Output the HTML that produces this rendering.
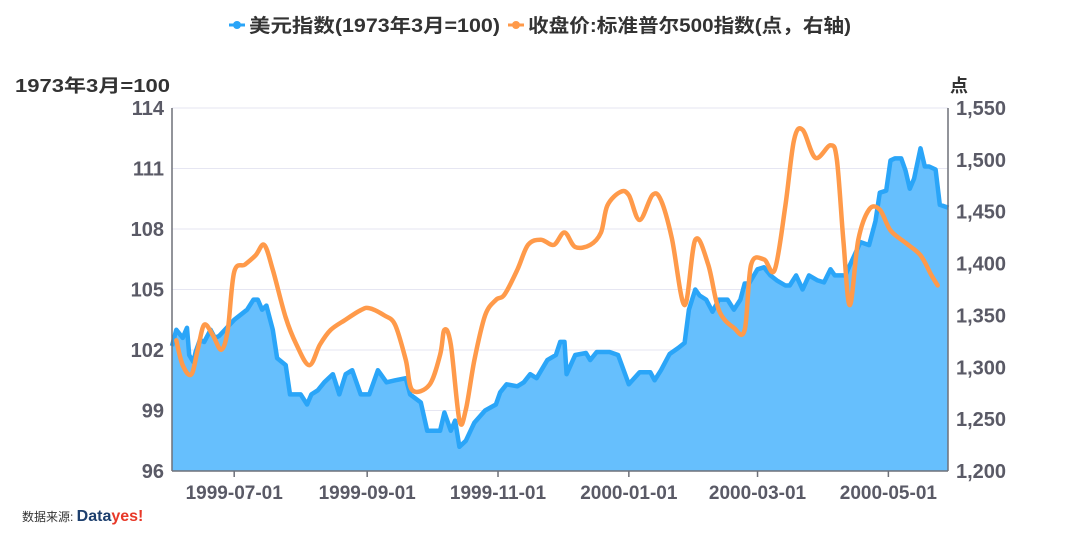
<!DOCTYPE html>
<html><head><meta charset="utf-8"><style>
body{margin:0;background:#fff;}
svg text{font-family:"Liberation Sans","Noto Sans CJK SC",sans-serif;}
</style></head><body>
<svg id="c" width="1080" height="540">
<g>
 <g>
  <line x1="229" y1="25" x2="245" y2="25" stroke="#2aa5f8" stroke-width="3"/><circle cx="237" cy="25" r="4" fill="#2aa5f8"/>
  <text x="249" y="32" font-size="19" font-weight="bold" fill="#333" textLength="251" lengthAdjust="spacingAndGlyphs">美元指数(1973年3月=100)</text></g>
 <g>
  <line x1="508" y1="25" x2="524" y2="25" stroke="#ff9a4a" stroke-width="3"/><circle cx="516" cy="25" r="4" fill="#ff9a4a"/>
  <text x="528" y="32" font-size="19" font-weight="bold" fill="#333" textLength="323" lengthAdjust="spacingAndGlyphs">收盘价:标准普尔500指数(点，右轴)</text></g>
</g>
<text x="15" y="92" font-size="18" font-weight="bold" fill="#333" textLength="155" lengthAdjust="spacingAndGlyphs">1973年3月=100</text>
<text x="950" y="92" font-size="18" font-weight="bold" fill="#333">点</text>
<g id="grid"></g><g id="series"></g><g id="axes"></g>
<text x="22" y="521" font-size="12" fill="#333">数据来源: <tspan font-size="16" font-weight="bold" fill="#1d3f6e">Data</tspan><tspan font-size="16" font-weight="bold" fill="#e83828">yes!</tspan></text>
</svg>
<script>
const startDate="1999-06-02";
const blueDays=[0,2,5,7,8,10,11,13,15,18,20,22,29,35,38,40,42,44,47,49,53,55,60,63,65,68,71,75,78,81,84,88,92,96,100,104,109,111,116,119,125,127,130,132,134,137,141,146,151,153,156,161,164,167,170,175,179,181,183,184,188,193,195,198,202,204,208,213,218,223,225,228,232,236,239,241,244,246,249,252,255,259,262,265,267,269,273,276,279,282,286,288,291,294,297,301,304,307,309,314,316,321,325,328,330,333,335,337,340,342,344,346,349,351,353,356,358,362];
const blueVals=[102.2,103.0,102.6,103.1,101.75,101.4,101.9,102.5,102.4,103.0,102.6,102.7,103.5,104.0,104.5,104.5,104.0,104.2,103.0,101.6,101.25,99.8,99.8,99.3,99.8,100.0,100.4,100.8,99.8,100.8,101.0,99.8,99.8,101.0,100.4,100.5,100.6,99.8,99.4,98.0,98.0,98.9,98.0,98.5,97.2,97.5,98.4,99.0,99.3,99.9,100.3,100.2,100.4,100.8,100.6,101.5,101.75,102.4,102.4,100.8,101.75,101.85,101.5,101.9,101.9,101.9,101.75,100.3,100.9,100.9,100.5,101.0,101.8,102.1,102.35,104.0,105.0,104.7,104.5,103.9,104.5,104.5,104.0,104.5,105.3,105.3,106.0,106.1,105.7,105.45,105.2,105.2,105.7,105.0,105.7,105.45,105.35,106.0,105.7,105.7,106.2,107.35,107.2,108.4,109.8,109.9,111.4,111.5,111.5,110.9,110.0,110.5,112.0,111.1,111.1,110.95,109.2,109.05];
const orangeDays=[2,5,9,12,15,19,23,26,29,34,39,43,47,53,58,64,69,74,81,88,92,99,104,109,112,120,125,127,130,134,137,141,146,151,155,161,166,172,178,183,188,195,200,203,209,213,218,224,228,233,239,244,250,255,262,267,270,276,281,286,290,294,300,307,310,313,316,320,325,330,335,342,349,354,357];
const orangeVals=[1326,1302,1293,1317,1341,1331,1317,1336,1392,1399,1408,1418,1394,1348,1322,1302,1322,1336,1346,1355,1357,1350,1341,1307,1278,1283,1312,1336,1322,1249,1259,1307,1350,1365,1370,1394,1418,1423,1418,1430,1416,1418,1430,1456,1469,1466,1442,1466,1461,1425,1360,1423,1399,1355,1338,1336,1399,1404,1394,1456,1519,1529,1502,1514,1500,1423,1360,1423,1452,1452,1432,1420,1408,1389,1379];
const leftTicks=[96,99,102,105,108,111,114];
const rightTicks=[1200,1250,1300,1350,1400,1450,1500,1550];
const xTickDates=["1999-07-01","1999-09-01","1999-11-01","2000-01-01","2000-03-01","2000-05-01"];
const X0=172,X1=948,Y0=471,Y1=108,DAYS=361.8;
const xs=d=>X0+d*(X1-X0)/DAYS;
const yl=v=>Y0-(v-96)/18*(Y0-Y1);
const yr=v=>Y0-(v-1200)/350*(Y0-Y1);
const dayOf=s=>(Date.parse(s)-Date.parse(startDate))/864e5;
const NS="http://www.w3.org/2000/svg";
function mk(t,a,p){const e=document.createElementNS(NS,t);for(const k in a)e.setAttribute(k,a[k]);p.appendChild(e);return e;}
const grid=document.getElementById('grid'),axes=document.getElementById('axes'),ser=document.getElementById('series');
leftTicks.forEach((v,i)=>{
 if(i>0){const g=mk('line',{x1:X0,x2:X1,y1:yl(v),y2:yl(v),stroke:'#e6e6f2','stroke-width':1},grid);
 
 }
 const t=mk('text',{x:164,y:yl(v)+7,'text-anchor':'end','font-size':20,'font-weight':'bold',fill:'#5a5a66'},axes);t.textContent=v;
 
 
});
rightTicks.forEach(v=>{
 const t=mk('text',{x:956,y:yr(v)+7,'font-size':20,'font-weight':'bold',fill:'#5a5a66'},axes);t.textContent=v.toLocaleString('en-US');
 
 
});
xTickDates.forEach(s=>{
 const x=xs(dayOf(s));
 const l=mk('line',{x1:x,x2:x,y1:Y0,y2:Y0+6,stroke:'#6e7079','stroke-width':1.5},axes);
 
 
 const t=mk('text',{x:x,y:499,'text-anchor':'middle','font-size':19,'font-weight':'bold',fill:'#5a5a66'},axes);t.textContent=s;
 
 
});
[[X0,Y1,X0,Y0],[X1,Y1,X1,Y0],[X0,Y0,X1,Y0]].forEach(a=>{
 const l=mk('line',{x1:a[0],y1:a[1],x2:a[2],y2:a[3],stroke:'#6e7079','stroke-width':1.5},axes);
 
 
});
const bp=blueDays.map((d,i)=>[xs(d),yl(blueVals[i])]);
let dl='M'+bp.map(p=>p[0].toFixed(1)+','+p[1].toFixed(1)).join('L');
const area=mk('path',{d:dl+`L${bp[bp.length-1][0]},${Y0}L${bp[0][0]},${Y0}Z`,fill:'#66bffd'},ser);


const bl=mk('path',{d:dl,fill:'none',stroke:'#2aa5f8','stroke-width':4.5,'stroke-linejoin':'round'},ser);


const op=orangeDays.map((d,i)=>[xs(d),yr(orangeVals[i])]);
let od='M'+op[0][0]+','+op[0][1];
for(let i=0;i<op.length-1;i++){
 const p0=op[Math.max(0,i-1)],p1=op[i],p2=op[i+1],p3=op[Math.min(op.length-1,i+2)];
 const c1=[p1[0]+(p2[0]-p0[0])/6,p1[1]+(p2[1]-p0[1])/6],c2=[p2[0]-(p3[0]-p1[0])/6,p2[1]-(p3[1]-p1[1])/6];
 od+=`C${c1[0].toFixed(1)},${c1[1].toFixed(1)} ${c2[0].toFixed(1)},${c2[1].toFixed(1)} ${p2[0].toFixed(1)},${p2[1].toFixed(1)}`;
}
const ol=mk('path',{d:od,fill:'none',stroke:'#ff9a4a','stroke-width':4.5,'stroke-linejoin':'round','stroke-linecap':'round'},ser);


</script>
</body></html>
